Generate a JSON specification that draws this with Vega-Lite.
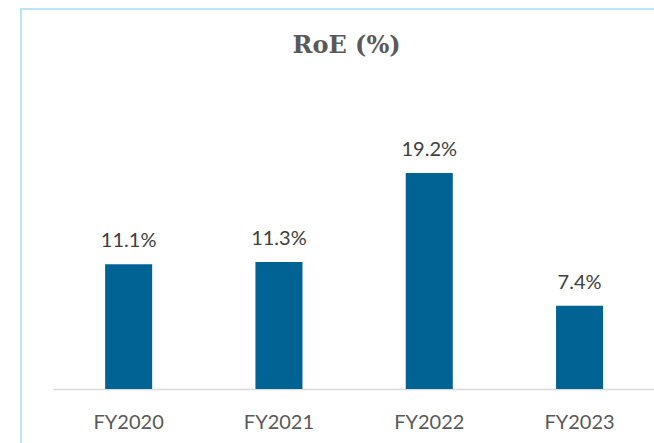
{
  "$schema": "https://vega.github.io/schema/vega-lite/v6.json",
  "width": 643,
  "height": 440,
  "autosize": {"type": "none"},
  "padding": {"left": 21, "top": 9, "right": 0, "bottom": 0},
  "background": "white",
  "config": {"view": {"stroke": "#BDE3F7", "strokeWidth": 2}},
  "title": {
    "text": "RoE (%)",
    "font": "DejaVu Serif",
    "fontSize": 24,
    "fontWeight": "bold",
    "color": "#595959",
    "orient": "top",
    "anchor": "middle",
    "baseline": "alphabetic",
    "offset": -68,
    "dx": 4
  },
  "data": {
    "values": [
      {"year": "FY2020", "roe": 0.111},
      {"year": "FY2021", "roe": 0.113},
      {"year": "FY2022", "roe": 0.192},
      {"year": "FY2023", "roe": 0.074}
    ]
  },
  "encoding": {
    "x": {
      "field": "year",
      "type": "nominal",
      "sort": null,
      "scale": {"paddingInner": 0.687, "paddingOuter": 0.4825, "align": 0.58},
      "axis": {
        "orient": "bottom",
        "offset": -60,
        "title": null,
        "labelAngle": 0,
        "ticks": false,
        "labelPadding": 23,
        "labelFont": "Lato",
        "labelFontSize": 20,
        "labelColor": "#595959",
        "domainColor": "#D9D9D9",
        "domainWidth": 1.5,
        "domainDash": [0, 32, 700],
        "grid": false
      }
    },
    "y": {
      "field": "roe",
      "type": "quantitative",
      "scale": {"domain": [-0.0533, 0.3378], "nice": false, "zero": false},
      "axis": null
    }
  },
  "layer": [
    {"mark": {"type": "bar", "color": "#006394"}},
    {
      "mark": {"type": "text", "dy": -17, "baseline": "alphabetic", "font": "Lato", "fontSize": 20, "color": "#404040"},
      "encoding": {"text": {"field": "roe", "type": "quantitative", "format": ".1%"}}
    }
  ]
}
